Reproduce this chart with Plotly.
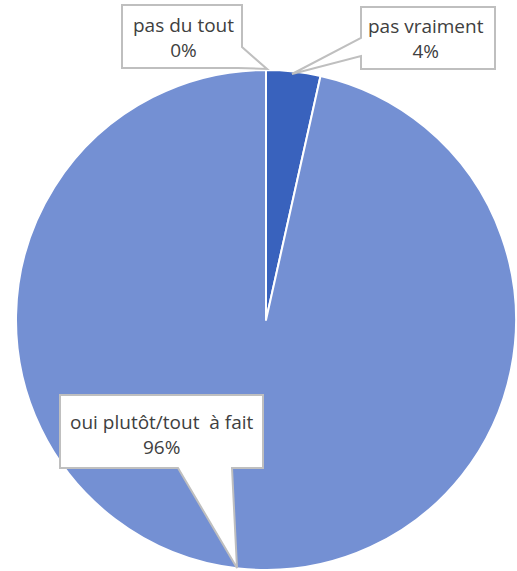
import plotly.graph_objects as go

categories = ['pas du tout', 'pas vraiment', 'oui plutôt/tout  à fait']
values = [0, 3.5, 96.5]
pct_labels = ['0%', '4%', '96%']
colors = ['#2f55a8', '#3962bd', '#7490d3']

W, H = 517, 571

fig = go.Figure()

fig.add_trace(go.Pie(
  labels = categories,
  values = values,
  sort = False,
  direction = 'clockwise',
  rotation = 0,
  textinfo = 'none',
  hoverinfo = 'label+percent',
  marker = {'colors': colors, 'line': {'color': 'white', 'width': 2}},
  domain = {'x': [16 / W, 516 / W], 'y': [1 - 570 / H, 1 - 70 / H]},
  showlegend = False,
))

# callout boxes: (outline in pixels, text centre in pixels), one per category
callouts = [
  ([(122, 5), (242, 5), (242, 47), (267, 69), (238, 68), (122, 68)], (183, 38)),
  ([(361, 7), (495, 7), (495, 69), (361, 69), (361, 56), (292, 74), (361, 38)], (426, 39)),
  ([(60, 395), (263, 395), (263, 468), (232, 468), (237, 568), (178, 468), (60, 468)], (162, 434)),
]

def px(x, y):
  return x / W, 1 - y / H

for (outline, (tx, ty)), cat, pct in zip(callouts, categories, pct_labels):
  pts = [px(x, y) for x, y in outline]
  path = 'M ' + ' L '.join(f'{x:.5f},{y:.5f}' for x, y in pts) + ' Z'
  fig.add_shape(
    type = 'path', path = path, xref = 'paper', yref = 'paper',
    fillcolor = 'white', line = {'color': '#bfbfbf', 'width': 2},
  )
  ax, ay = px(tx, ty)
  fig.add_annotation(
    x = ax, y = ay, xref = 'paper', yref = 'paper',
    xanchor = 'center', yanchor = 'middle',
    text = f'{cat}<br>{pct}', showarrow = False,
    font = {'family': 'Open Sans', 'size': 19, 'color': '#404040'},
    align = 'center',
  )

fig.update_layout(
  width = W, height = H,
  margin = {'l': 0, 'r': 0, 't': 0, 'b': 0},
  paper_bgcolor = 'white',
  plot_bgcolor = 'white',
)

fig.write_html(
  'out.html',
  config = {'displayModeBar': False},
  post_script = "document.body.style.margin = '0';",
)
